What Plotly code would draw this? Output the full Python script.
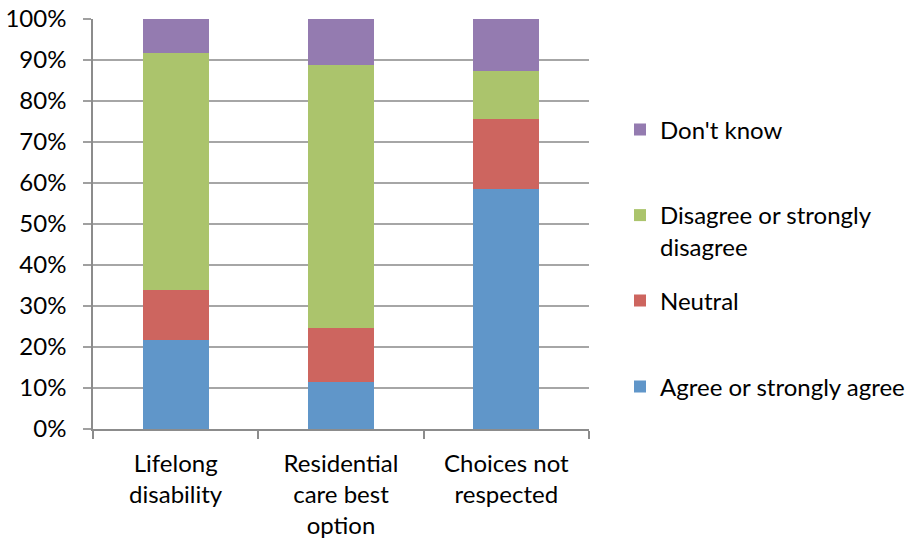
import plotly.graph_objects as go

# Survey responses by statement (percent of respondents)
categories = ["Lifelong<br>disability", "Residential<br>care best<br>option", "Choices not<br>respected"]
agree = [21.7, 11.4, 58.5]
neutral = [12.1, 13.3, 17.0]
disagree = [58.0, 64.1, 11.7]
dont_know = [8.2, 11.2, 12.8]

series = [
    ("Agree or strongly agree", agree, "#6096c9", "legend4"),
    ("Neutral", neutral, "#cd655f", "legend3"),
    ("Disagree or strongly<br>disagree", disagree, "#abc46c", "legend2"),
    ("Don't know", dont_know, "#947bb0", "legend"),
]

FONT = "Lato, 'Open Sans', sans-serif"
FS = 24

fig = go.Figure()
for name, vals, color, leg in series:
    fig.add_trace(go.Bar(
        x=categories, y=vals, name=name,
        marker=dict(color=color, line=dict(width=0)),
        legend=leg, showlegend=True,
    ))

W, H = 916, 542
def legend_at(y_px, valign="middle", anchor="middle"):
    return dict(
        visible=True,
        x=620 / W, xref="container", xanchor="left",
        y=1 - y_px / H, yref="container", yanchor=anchor,
        font=dict(family=FONT, size=FS, color="#000000"),
        bgcolor="rgba(0,0,0,0)", borderwidth=0, valign=valign,
        itemclick=False,
    )

fig.update_layout(
    width=W, height=H,
    margin=dict(l=93, r=327, t=19, b=113),
    paper_bgcolor="white", plot_bgcolor="white",
    barmode="stack", bargap=0.6,
    showlegend=True,
    font=dict(family=FONT, size=FS, color="#000000"),
    legend=legend_at(130),
    legend2=legend_at(231, valign="top"),
    legend3=legend_at(301),
    legend4=legend_at(387),
    xaxis=dict(
        showline=True, linecolor="#8c8c8c", linewidth=1.5,
        ticks="outside", tickson="boundaries", ticklen=8, tickcolor="#8c8c8c", tickwidth=1.5,
        tickfont=dict(family=FONT, size=FS, color="#000000"),
        ticklabelstandoff=12,
        showgrid=False, fixedrange=True, automargin=False,
    ),
    yaxis=dict(
        range=[0, 100], dtick=10, ticksuffix="%",
        showline=True, linecolor="#8c8c8c", linewidth=1.5,
        ticks="outside", ticklen=8, tickcolor="#a0a0a0", tickwidth=1.5,
        showgrid=True, gridcolor="#a6a6a6", gridwidth=1.5,
        tickfont=dict(family=FONT, size=FS, color="#000000"),
        ticklabelstandoff=12, zeroline=False, fixedrange=True, automargin=False,
    ),
)

fig.write_html("out.html")
